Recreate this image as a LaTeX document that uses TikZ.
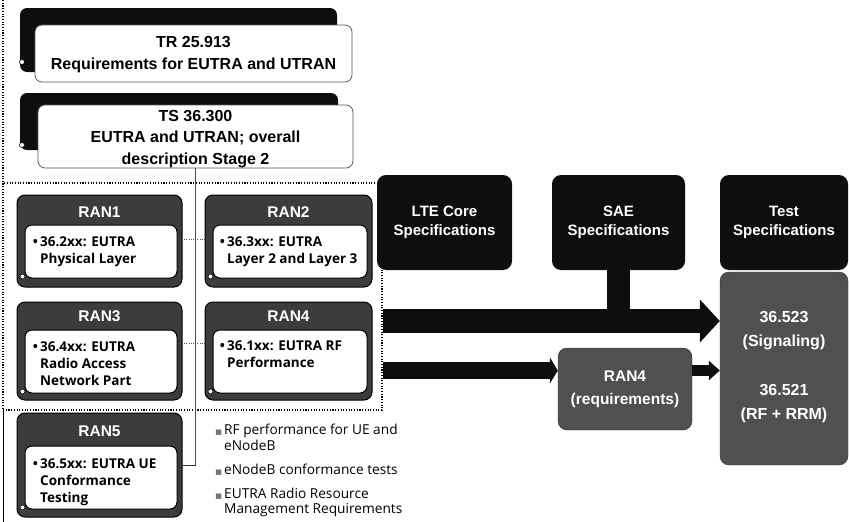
\documentclass[tikz,border=0pt]{standalone}
\usepackage{fontspec}
\setmainfont{Liberation Sans}
\newfontfamily\kfont{Open Sans}
\newfontfamily\symfont{DejaVu Sans}
\usetikzlibrary{arrows.meta,calc}
\definecolor{darkpanel}{HTML}{3C3C3C}
\definecolor{midpanel}{HTML}{505050}
\definecolor{specblack}{HTML}{0E0E0E}
\begin{document}
\begin{tikzpicture}[x=1pt,y=-1pt,
  backbox/.style={fill=specblack, rounded corners=7pt, inner sep=0pt},
  frontbox/.style={fill=white, draw=black!65, line width=0.8pt, rounded corners=7pt,
    inner sep=0pt, align=center, font=\bfseries\fontsize{16}{22}\selectfont},
  ranouter/.style={fill=darkpanel, draw=black, line width=1pt, rounded corners=8pt, inner sep=0pt},
  raninner/.style={fill=white, draw=black, line width=1pt, rounded corners=7pt, inner sep=0pt},
  ranhead/.style={text=white, inner sep=0pt, font=\bfseries\fontsize{15.5}{18}\selectfont},
  rantext/.style={anchor=west, align=left, inner sep=0pt, font=\kfont\bfseries\fontsize{13.5}{17}\selectfont},
  specbox/.style={fill=specblack, rounded corners=9pt, text=white, align=center, inner sep=0pt,
    font=\bfseries\fontsize{15}{19}\selectfont},
  graybox/.style={fill=midpanel, draw=black!80, rounded corners=9pt, text=white, align=center,
    inner sep=0pt},
  graytext/.style={text=white, align=center, inner sep=0pt, font=\bfseries\fontsize{16}{24}\selectfont},
  listtext/.style={anchor=west, align=left, inner sep=0pt, font=\kfont\fontsize{13.7}{15.5}\selectfont},
  bead/.style={circle, fill=white, draw=black, line width=0.6pt, inner sep=0pt, minimum size=5pt},
  framedots/.style={line width=1.1pt, dash pattern=on 1.1pt off 1.6pt}
]
\useasboundingbox (0,0) rectangle (849,522);
\newcommand\taskmark{\llap{\textcolor{black!55}{\symfont\fontsize{7}{8}\selectfont■}\,}}

% left margin rule
\draw[framedots] (3,0) -- (3,183);
\draw[line width=0.8pt] (3,410) -- (3,522);

% dotted frame round the RAN working groups
\node[draw, framedots, minimum width=379pt, minimum height=227pt, inner sep=0pt] (ranframe) at (192.5,296.5) {};

% report boxes
\node[backbox, minimum width=317pt, minimum height=64pt] (trback) at (178.5,40) {};
\node[frontbox, minimum width=317pt, minimum height=57pt] (trfront) at (193.5,53.5) {};
\node[inner sep=0pt, align=center, font=\bfseries\fontsize{16}{22}\selectfont] (trtext) at (193.5,55)
  {TR 25.913\\Requirements for EUTRA and UTRAN};
\node[bead] (trbead) at (22,62) {};

\node[backbox, minimum width=318pt, minimum height=57pt] (tsback) at (179,121.5) {};
\node[frontbox, minimum width=315pt, minimum height=63pt] (tsfront) at (195.5,136.5) {};
\node[inner sep=0pt, align=center, font=\bfseries\fontsize{16}{21.5}\selectfont] (tstext) at (195.5,139)
  {TS 36.300\\EUTRA and UTRAN; overall\\description Stage 2};
\node[bead] (tsbead) at (22,145) {};

% trunk from TS 36.300 down to the working groups
\coordinate (trunkend) at (195.5,465);
\draw[black!70, line width=0.7pt] (tsfront.south) -- (trunkend);

% RAN1
\node[ranouter, minimum width=165pt, minimum height=92pt] (ran1) at (99.5,241) {};
\node[ranhead] (ran1h) at (99.5,212) {RAN1};
\node[raninner, minimum width=152pt, minimum height=53pt] (ran1b) at (101,251.5) {};
\node[rantext] (ran1t) at (40,251.5) {\llap{•\,}36.2xx: EUTRA\\Physical Layer};
% RAN2
\node[ranouter, minimum width=167pt, minimum height=92pt] (ran2) at (288.5,241) {};
\node[ranhead] (ran2h) at (288.5,212) {RAN2};
\node[raninner, minimum width=154pt, minimum height=53pt] (ran2b) at (290,251.5) {};
\node[rantext] (ran2t) at (227,251.5) {\llap{•\,}36.3xx: EUTRA\\Layer 2 and Layer 3};
% RAN3
\node[ranouter, minimum width=165pt, minimum height=98pt] (ran3) at (99.5,351) {};
\node[ranhead] (ran3h) at (99.5,316) {RAN3};
\node[raninner, minimum width=152pt, minimum height=63pt] (ran3b) at (101,361.5) {};
\node[rantext] (ran3t) at (40,364) {\llap{•\,}36.4xx: EUTRA\\Radio Access\\Network Part};
% RAN4
\node[ranouter, minimum width=167pt, minimum height=98pt] (ran4) at (288.5,351) {};
\node[ranhead] (ran4h) at (288.5,316) {RAN4};
\node[raninner, minimum width=154pt, minimum height=63pt] (ran4b) at (290,361.5) {};
\node[rantext] (ran4t) at (227,354) {\llap{•\,}36.1xx: EUTRA RF\\Performance};
% RAN5
\node[ranouter, minimum width=165pt, minimum height=104pt] (ran5) at (99.5,465) {};
\node[ranhead] (ran5h) at (99.5,431) {RAN5};
\node[raninner, minimum width=152pt, minimum height=63pt] (ran5b) at (101,477.5) {};
\node[rantext] (ran5t) at (40,482) {\llap{•\,}36.5xx: EUTRA UE\\Conformance\\Testing};

\foreach \b in {ran1b,ran2b,ran3b,ran4b,ran5b}
  \node[bead] at ([shift={(-2pt,2pt)}]\b.south west) {};

% links between the working groups
\draw[black!70, line width=0.7pt, dash pattern=on 1pt off 1.2pt]
  ([yshift=12.5pt]ran1b.east) -- ([yshift=12.5pt]ran2b.west);
\draw[black!70, line width=0.7pt, dash pattern=on 1pt off 1.2pt]
  ([yshift=18pt]ran3b.east) -- ([yshift=18pt]ran4b.west);
\draw[black!80, line width=0.7pt] ([yshift=12.5pt]ran5b.east) -- (trunkend);

% RAN5 task list
\node[listtext] (task1) at (224,437.5) {\taskmark RF performance for UE and\\eNodeB};
\node[listtext] (task2) at (224,470) {\taskmark eNodeB conformance tests};
\node[listtext] (task3) at (224,502.5) {\taskmark EUTRA Radio Resource\\Management Requirements};

% specification groups
\node[specbox, minimum width=135pt, minimum height=95pt] (lte) at (444.5,222.5) {LTE Core\\Specifications};
\node[specbox, minimum width=133pt, minimum height=95pt] (sae) at (618.5,222.5) {SAE\\Specifications};
\node[specbox, minimum width=128pt, minimum height=95pt] (test) at (784,222.5) {Test\\Specifications};
\node[graybox, minimum width=128pt, minimum height=193pt] (testbody) at (784,368.5) {};
\node[graytext] (sig) at (784,330.5) {36.523\\(Signaling)};
\node[graytext] (rfrrm) at (784,403.5) {36.521\\(RF + RRM)};

\node[graybox, minimum width=134pt, minimum height=82pt, font=\bfseries\fontsize{15.5}{23}\selectfont]
  (req) at (625,389) {RAN4\\(requirements)};

% flows into the test specifications
\coordinate (uplev) at (0,321);
\coordinate (lowlev) at (0,370.5);
\draw[specblack, line width=23pt] ([yshift=2pt]sae.south) -- (sae.south |- uplev);
\draw[specblack, line width=24pt, -{Triangle[length=20pt,width=42pt]}]
  (ranframe.east |- uplev) -- (testbody.west |- uplev);
\draw[specblack, line width=17pt, -{Triangle[length=8pt,width=26pt]}]
  (ranframe.east |- lowlev) -- (req.west |- lowlev);
\draw[specblack, line width=11pt, -{Triangle[length=11pt,width=19pt]}]
  (req.east |- lowlev) -- (testbody.west |- lowlev);
\end{tikzpicture}
\end{document}
